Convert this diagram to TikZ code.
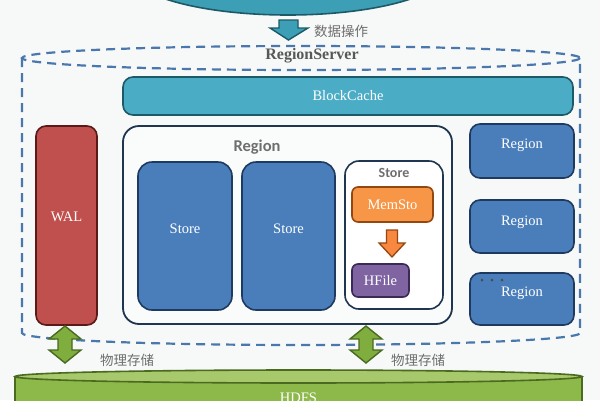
\documentclass[tikz,border=0pt]{standalone}
\usepackage{fontspec}
\usetikzlibrary{shapes.geometric}
\setmainfont{Liberation Serif}
\newfontfamily\cjk{Noto Sans CJK SC}
\newfontfamily\lblfont{Carlito}
\definecolor{bg}{HTML}{F7F8F8}
\definecolor{dashc}{HTML}{4A78AD}
\definecolor{tealF}{HTML}{3C9FB6}
\definecolor{tealD}{HTML}{1C5A68}
\definecolor{bcF}{HTML}{4BACC6}
\definecolor{walF}{HTML}{C0504D}
\definecolor{walD}{HTML}{5A1A18}
\definecolor{navy}{HTML}{1F3550}
\definecolor{blueF}{HTML}{4A7EBB}
\definecolor{blueD}{HTML}{1F3A60}
\definecolor{orgF}{HTML}{F79646}
\definecolor{orgD}{HTML}{94470F}
\definecolor{purF}{HTML}{8064A2}
\definecolor{purD}{HTML}{3A2A55}
\definecolor{grnF}{HTML}{7FAE3F}
\definecolor{grnD}{HTML}{4A6A20}
\definecolor{hdTop}{HTML}{A8C86C}
\definecolor{hdBody}{HTML}{8DB94A}
\definecolor{txtgray}{HTML}{6E6E6E}
\begin{document}
\begin{tikzpicture}[x=1pt,y=-1pt,
  wbox/.style={draw, line width=1.6pt, rounded corners=10pt, text=white,
    font=\fontsize{14.5}{16}\selectfont, inner sep=0pt, anchor=center},
  glabel/.style={text=txtgray, font=\lblfont\bfseries\fontsize{16.5}{18}\selectfont, inner sep=0pt},
  cjklabel/.style={text=txtgray, font=\cjk\fontsize{13.5}{15}\selectfont, inner sep=0pt},
  garrow/.style={fill=grnF, draw=grnD, line width=1.4pt, line join=miter}
]
\useasboundingbox (0,0) rectangle (600,400);
\clip (0,0) rectangle (600,400);
\fill[bg] (0,0) rectangle (600,400);

% top client ellipse
\node[ellipse, draw=tealD, fill=tealF, line width=1.6pt, minimum width=320pt, minimum height=90pt, inner sep=0pt] (client) at (288,-30) {};

% data operation arrow
\draw[fill=tealF, draw=tealD, line width=1.4pt, line join=miter]
  (279,20) -- (298,20) -- (298,28) -- (308,28) -- (288.5,40) -- (270,28) -- (279,28) -- cycle;
\node[cjklabel, anchor=west] (dataop) at (314,31) {数据操作};

% RegionServer dashed cylinder
\draw[dashc, line width=2.2pt, dash pattern=on 9pt off 6pt]
  (301,58) ellipse [x radius=279, y radius=12];
\draw[dashc, line width=2.2pt, dash pattern=on 9pt off 6pt]
  (22,58) -- (22,333) arc[start angle=180, end angle=0, x radius=279, y radius=12] -- (580,58);
\node[text=txtgray!80!black, font=\bfseries\fontsize{16}{18}\selectfont, inner sep=0pt] (rs) at (312,56) {RegionServer};

% BlockCache
\node[wbox, draw=tealD, fill=bcF, minimum width=450pt, minimum height=38pt] (bc) at (348,96) {BlockCache};

% WAL
\node[wbox, draw=walD, fill=walF, minimum width=61pt, minimum height=199pt] (wal) at (66.5,225.5) {};
\node[text=white, font=\fontsize{14.5}{16}\selectfont, inner sep=0pt] (waltxt) at (66.5,217) {WAL};

% Region container
\node[draw=navy, fill=bg!60!white, line width=1.8pt, rounded corners=16pt, minimum width=329pt, minimum height=198pt, inner sep=0pt] (region) at (287.5,225) {};
\node[glabel] (regionlbl) at (257,147) {Region};

% Stores
\node[wbox, draw=blueD, fill=blueF, rounded corners=14pt, minimum width=94pt, minimum height=148pt] (s1) at (185,236) {};
\node[text=white, font=\fontsize{14.5}{16}\selectfont, inner sep=0pt] (s1t) at (185,229) {Store};
\node[wbox, draw=blueD, fill=blueF, rounded corners=14pt, minimum width=93pt, minimum height=148pt] (s2) at (288.5,236) {};
\node[text=white, font=\fontsize{14.5}{16}\selectfont, inner sep=0pt] (s2t) at (288.5,229) {Store};
\node[draw=navy, fill=white, line width=1.6pt, rounded corners=14pt, minimum width=98pt, minimum height=148pt, inner sep=0pt] (s3) at (394,235) {};
\node[glabel, font=\lblfont\bfseries\fontsize{14}{16}\selectfont] (s3lbl) at (394,173) {Store};

\node[wbox, draw=orgD, fill=orgF, rounded corners=6pt, minimum width=81pt, minimum height=35pt] (mem) at (392.5,204.5) {MemSto};
\node[wbox, draw=purD, fill=purF, rounded corners=6pt, minimum width=57pt, minimum height=33pt] (hfile) at (380.5,280.5) {HFile};
\draw[fill=orgF!90!red, draw=orgD, line width=1.3pt, line join=miter]
  (386.5,230) -- (397.5,230) -- (397.5,243) -- (405,243) -- (392,257) -- (379,243) -- (386.5,243) -- cycle;

% right regions
\node[wbox, draw=blueD, fill=blueF, minimum width=104pt, minimum height=54pt] (r1) at (522,151) {};
\node[text=white, font=\fontsize{14.5}{16}\selectfont, inner sep=0pt] (r1t) at (522,145) {Region};
\node[wbox, draw=blueD, fill=blueF, minimum width=104pt, minimum height=53pt] (r2) at (522,226.5) {};
\node[text=white, font=\fontsize{14.5}{16}\selectfont, inner sep=0pt] (r2t) at (522,222) {Region};
\node[wbox, draw=blueD, fill=blueF, minimum width=104pt, minimum height=52pt] (r3) at (522,299) {};
\node[text=white, font=\fontsize{14.5}{16}\selectfont, inner sep=0pt] (r3t) at (522,293) {Region};
\foreach \dx in {482,492,502} \fill[black!70] (\dx,280) circle[radius=1.5];

% HDFS cylinder
\draw[fill=hdBody, draw=grnD, line width=1.6pt] (15,376.5) -- (15,410) -- (582,410) -- (582,376.5) -- cycle;
\node[ellipse, draw=grnD, fill=hdTop, line width=1.6pt, minimum width=567pt, minimum height=13pt, inner sep=0pt] (hdfs) at (298.5,376.5) {};
\node[text=white, font=\fontsize{14.5}{16}\selectfont, inner sep=0pt] (hdfst) at (298.5,398) {HDFS};

% green double arrows
\draw[garrow] (65,326) -- (81,339) -- (72,339) -- (72,350) -- (81,350) -- (65,363) -- (49,350) -- (58,350) -- (58,339) -- (49,339) -- cycle;
\draw[garrow] (366,326) -- (382,339) -- (373,339) -- (373,350) -- (382,350) -- (366,363) -- (350,350) -- (359,350) -- (359,339) -- (350,339) -- cycle;
\node[cjklabel, anchor=west] (phys1) at (100,360) {物理存储};
\node[cjklabel, anchor=west] (phys2) at (391,360) {物理存储};
\end{tikzpicture}
\end{document}
